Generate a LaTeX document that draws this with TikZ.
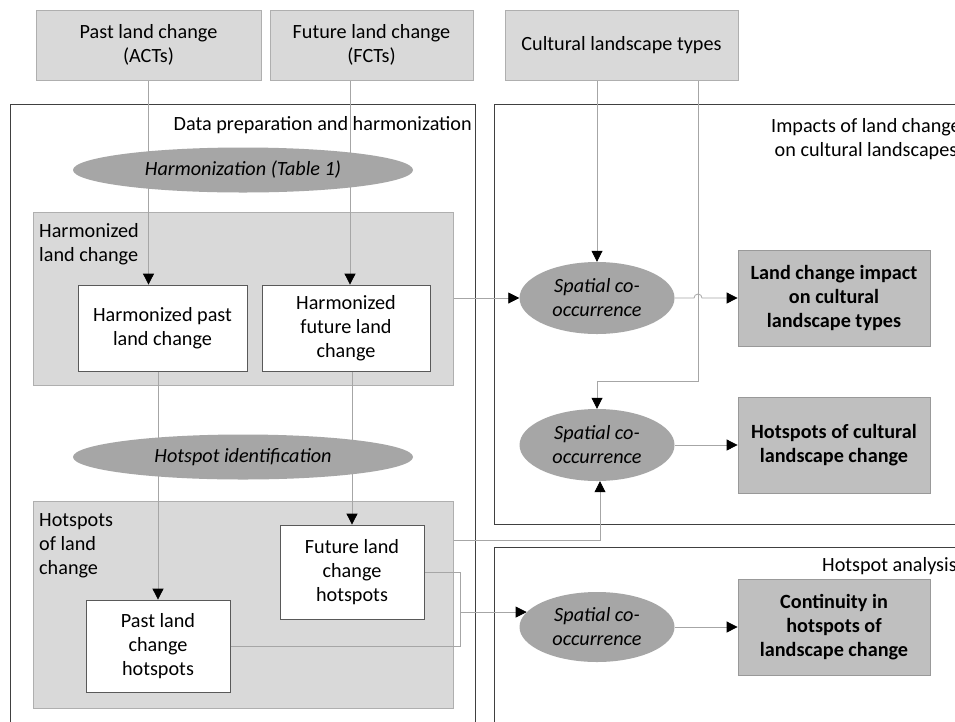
\documentclass[tikz,border=0pt]{standalone}
\usepackage{fontspec}
\setmainfont{Carlito}
\usetikzlibrary{arrows.meta,shapes.geometric}
\definecolor{lightbox}{HTML}{D9D9D9}
\definecolor{ellfill}{HTML}{A6A6A6}
\definecolor{resfill}{HTML}{BFBFBF}
\definecolor{resline}{HTML}{999999}
\definecolor{topline}{HTML}{AFAFAF}
\definecolor{conncol}{HTML}{A6A6A6}
\definecolor{framecol}{HTML}{404040}
\definecolor{wline}{HTML}{595959}
\pgfdeclarelayer{back}
\pgfdeclarelayer{mid}
\pgfsetlayers{back,mid,main}
\tikzset{
  txt/.style={font=\fontsize{20.2}{24}\selectfont},
  topbox/.style={txt, draw=topline, fill=lightbox, align=center, inner sep=0pt, line width=0.8pt},
  frame/.style={draw=framecol, line width=0.9pt, inner sep=0pt},
  group/.style={draw=topline, fill=lightbox, inner sep=0pt, line width=0.8pt},
  wbox/.style={txt, draw=wline, fill=white, align=center, inner sep=0pt, line width=0.8pt},
  ell/.style={ellipse, fill=ellfill, font=\fontsize{20.2}{24}\selectfont\itshape, align=center, inner sep=0pt},
  resbox/.style={font=\fontsize{20.2}{24}\selectfont\bfseries, draw=resline, fill=resfill, align=center, inner sep=0pt, line width=0.8pt},
  conn/.style={draw=conncol, line width=0.8pt},
  arr/.style={conn, -{Triangle[length=11pt,width=11pt,color=black]}},
  lbl/.style={txt, inner sep=2pt}
}
\begin{document}
\begin{tikzpicture}[x=1pt,y=-1pt]
\useasboundingbox (0,0) rectangle (955,721);
\clip (0,0) rectangle (955,721);

% top boxes
\node[topbox, minimum width=225, minimum height=70] (past) at (148.5,45) {Past land change\\(ACTs)};
\node[topbox, minimum width=203, minimum height=70] (fut) at (371.5,45) {Future land change\\(FCTs)};
\node[topbox, minimum width=233, minimum height=70] (cult) at (621.5,45) {Cultural landscape types};

% frames and groups
\begin{pgfonlayer}{back}
\clip (0,0) rectangle (955,721);
\fill[white] (0,0) rectangle (955,721);
\node[frame, minimum width=465, minimum height=660, anchor=north west] (f1) at (10,104) {};
\node[frame, minimum width=480, minimum height=420, anchor=north west] (f2) at (494,104) {};
\node[frame, minimum width=480, minimum height=200, anchor=north west] (f3) at (494,547) {};
\node[group, minimum width=420, minimum height=173, anchor=north west] (hlc) at (33,212) {};
\node[group, minimum width=420, minimum height=207, anchor=north west] (hs) at (33,501) {};
\end{pgfonlayer}

% frame titles
\node[lbl, anchor=east] (t1) at (474,125) {Data preparation and harmonization};
\node[lbl, align=center] (t2) at (866,139) {Impacts of land change\\on cultural landscapes};
\node[lbl, anchor=west] (t3) at (820,566) {Hotspot analysis};

% group labels
\node[lbl, anchor=north west, align=left] (g1) at (37,221) {Harmonized\\land change};
\node[lbl, anchor=north west, align=left] (g2) at (37,511) {Hotspots\\of land\\change};

% ellipses
\node[ell, minimum width=340, minimum height=45] (harm) at (243,170) {Harmonization (Table 1)};
\node[ell, minimum width=340, minimum height=45] (hid) at (243,457) {Hotspot identification};

% white boxes
\node[wbox, minimum width=169, minimum height=86] (hp) at (162.5,328) {Harmonized past\\land change};
\node[wbox, minimum width=168, minimum height=86] (hf) at (346,328) {Harmonized\\future land\\change};
\node[wbox, minimum width=144, minimum height=94] (fh) at (352,572) {Future land\\change\\hotspots};
\node[wbox, minimum width=144, minimum height=92] (ph) at (158,646) {Past land\\change\\hotspots};

% right column
\node[ell, minimum width=155, minimum height=72] (s1) at (597,298) {Spatial co-\\occurrence};
\node[ell, minimum width=155, minimum height=72] (s2) at (597,445) {Spatial co-\\occurrence};
\node[ell, minimum width=155, minimum height=70] (s3) at (597,627) {Spatial co-\\occurrence};
\node[resbox, minimum width=192, minimum height=96] (r1) at (834,298) {Land change impact\\on cultural\\landscape types};
\node[resbox, minimum width=192, minimum height=96] (r2) at (834,445) {Hotspots of cultural\\landscape change};
\node[resbox, minimum width=192, minimum height=96] (r3) at (834,627) {Continuity in\\hotspots of\\landscape change};

% connectors
\coordinate (k) at (698,381);
\coordinate (jx) at ([xshift=36pt]fh.east);
\begin{pgfonlayer}{mid}
\clip (0,0) rectangle (955,721);
\draw[arr] (past.south) -- (past.south |- hp.north);
\draw[arr] ([xshift=-21.5pt]fut.south) -- ([xshift=-21.5pt]fut.south |- hf.north);
\draw[arr] (s1.north |- cult.south) -- (s1.north);
\draw[arr] (k |- cult.south) -- (k) -| (s2.north);
\draw[arr] (hlc.east |- s1.west) -- (s1.west);
\draw[arr] (s1.east) -- ([xshift=-4pt]k |- s1.east) arc[start angle=180, end angle=0, radius=4pt] -- (r1.west);
\draw[arr] (s2.east) -- (r2.west);
\draw[arr] (s3.east) -- (r3.west);
\draw[arr] (ph.north |- hp.south) -- (ph.north);
\draw[arr] (fh.north |- hf.south) -- (fh.north);
\draw[arr] ([yshift=-39pt]hs.north east) -| ([xshift=3pt]s2.south);
\draw[conn] (fh.east) -- (jx) |- (ph.east);
\draw[arr] (jx |- s3.168) -- (s3.168);
\end{pgfonlayer}
\end{tikzpicture}
\end{document}
